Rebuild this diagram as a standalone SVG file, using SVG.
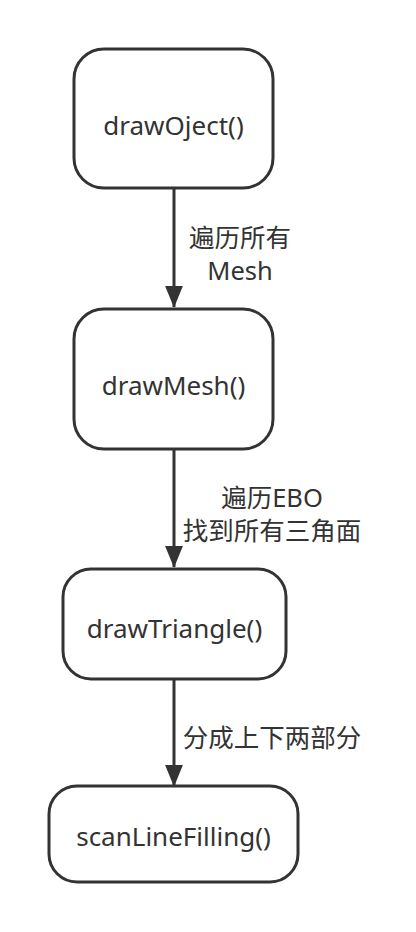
<svg xmlns="http://www.w3.org/2000/svg" width="416" height="932" viewBox="0 0 416 932">
<style>
.node rect{fill:#ffffff;stroke:#333333;stroke-width:3}
.node text{font-family:"Noto Sans","Open Sans","Noto Sans CJK SC",sans-serif;font-size:26px;fill:#333333;text-anchor:middle;dominant-baseline:central}
.edge line{stroke:#333333;stroke-width:3}
.lbl{font-family:"Noto Sans","Noto Sans CJK SC",sans-serif;font-size:25.5px;fill:#333333;text-anchor:middle;dominant-baseline:central}
</style>
<defs>
<marker id="arr" markerUnits="userSpaceOnUse" markerWidth="22" markerHeight="28" refX="26" refY="11" viewBox="0 0 27 22" orient="auto">
<path d="M0,0 L27,11 L0,22 Z" fill="#333333"/>
</marker>
</defs>
<rect width="416" height="932" fill="#ffffff"/>
<g id="edges" class="edge">
<line x1="174" y1="189" x2="174" y2="307" marker-end="url(#arr)"/>
<line x1="174" y1="450" x2="174" y2="567" marker-end="url(#arr)"/>
<line x1="174" y1="680" x2="174" y2="786" marker-end="url(#arr)"/>
<text class="lbl" x="240" y="237">遍历所有</text>
<text class="lbl" x="240" y="270">Mesh</text>
<text class="lbl" x="272" y="497">遍历EBO</text>
<text class="lbl" x="272" y="530">找到所有三角面</text>
<text class="lbl" x="272" y="737">分成上下两部分</text>
</g>
<g id="n1" class="node">
<rect x="74" y="49" width="199" height="139" rx="30" ry="30"/>
<text x="173.5" y="125">drawOject()</text>
</g>
<g id="n2" class="node">
<rect x="74" y="309" width="199" height="140" rx="30" ry="30"/>
<text x="173.5" y="385">drawMesh()</text>
</g>
<g id="n3" class="node">
<rect x="63" y="569" width="223" height="110" rx="28" ry="28"/>
<text x="174.5" y="628">drawTriangle()</text>
</g>
<g id="n4" class="node">
<rect x="49" y="786" width="249" height="96" rx="28" ry="28"/>
<text x="173.5" y="836">scanLineFilling()</text>
</g>
</svg>
